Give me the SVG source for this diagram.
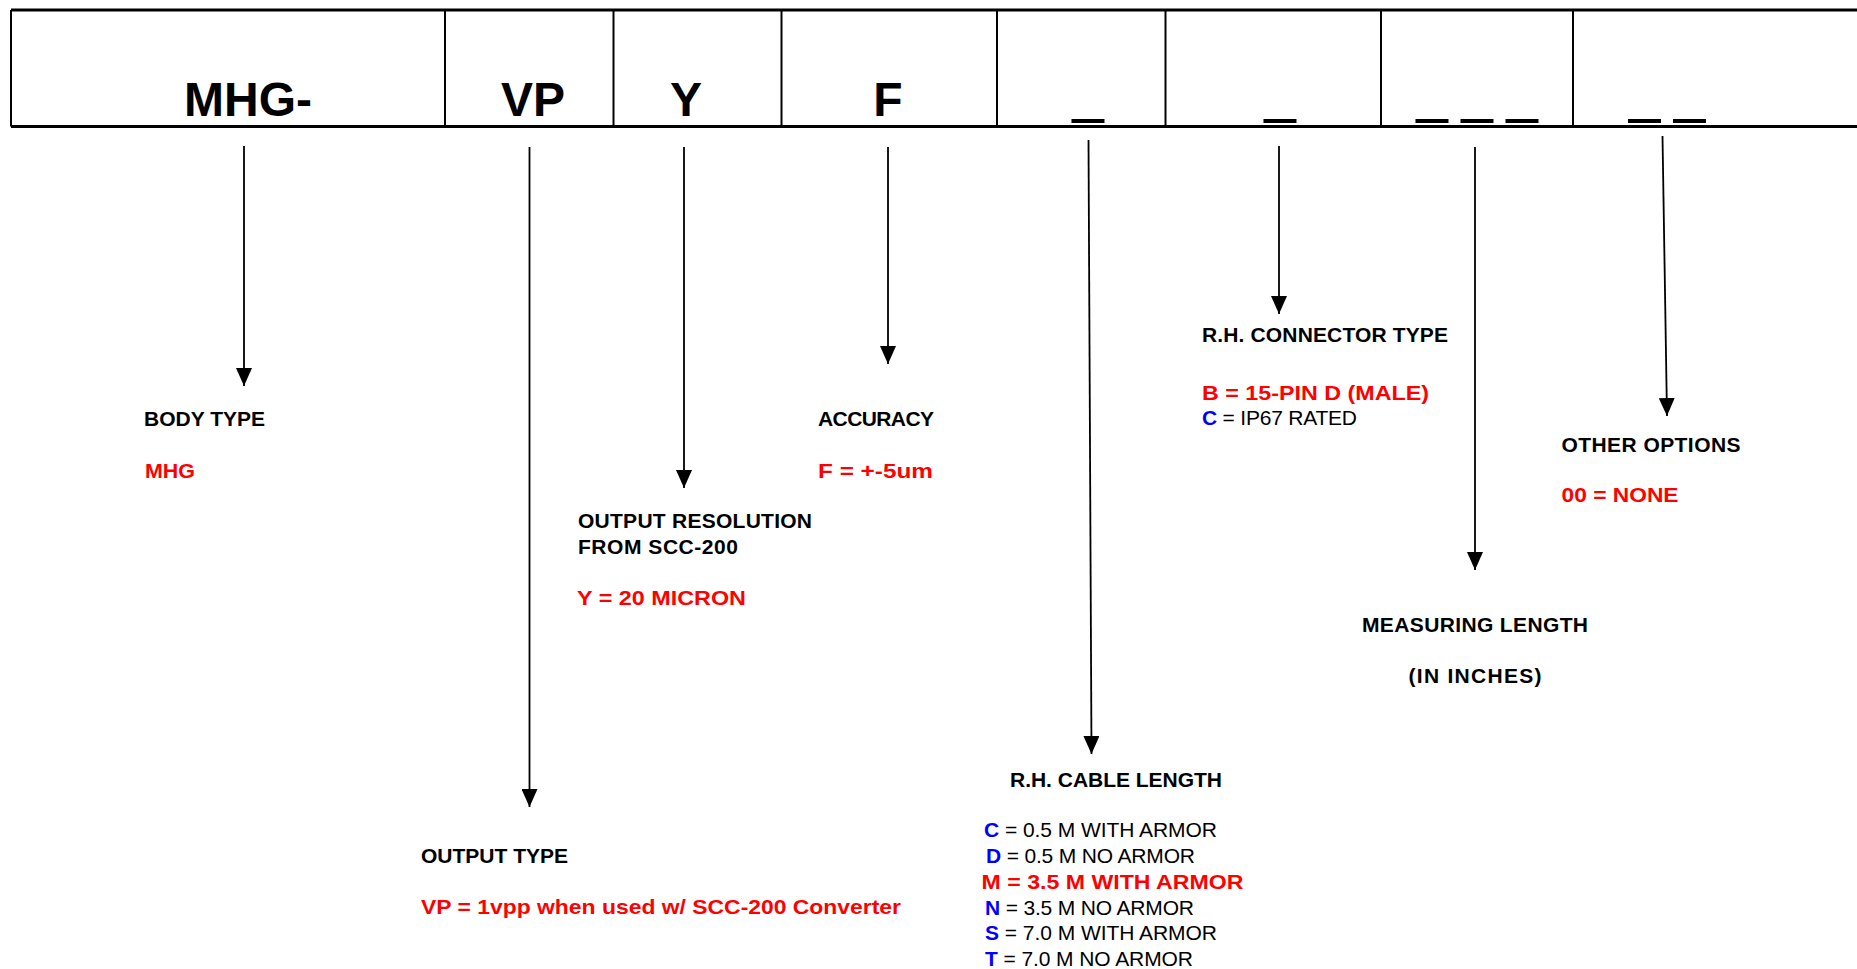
<svg xmlns="http://www.w3.org/2000/svg" width="1857" height="969" viewBox="0 0 1857 969">
<style>
text{font-family:"Liberation Sans",Arial,sans-serif;}
.hd{font-size:48px;font-weight:bold;fill:#000;text-anchor:middle;}
.us{font-size:54px;font-weight:bold;fill:#000;stroke:#000;stroke-width:2;text-anchor:middle;}
.lb{font-size:21px;font-weight:bold;fill:#000;}
.rd{font-size:21px;font-weight:bold;fill:#FF0000;}
.rg{font-size:21px;font-weight:normal;fill:#000;}
.bl{font-weight:bold;fill:#0000FF;}
.ctr{text-anchor:middle;}
.conn line{stroke:#000;stroke-width:1.8;fill:none;}
.box line{stroke:#000;}
</style>
<defs>
<marker id="ah" markerUnits="userSpaceOnUse" markerWidth="18" markerHeight="16" viewBox="0 0 18 16" refX="18" refY="8" orient="auto">
<path d="M0,0 L18,8 L0,16 Z" fill="#000"/>
</marker>
</defs>
<rect width="1857" height="969" fill="#fff"/>
<g id="code-box" class="box">
<line x1="11" y1="10" x2="1857" y2="10" stroke-width="3"/>
<line x1="11" y1="126.5" x2="1857" y2="126.5" stroke-width="3"/>
<line x1="11" y1="10" x2="11" y2="126.5" stroke-width="2"/>
<line x1="445" y1="10" x2="445" y2="126.5" stroke-width="2"/>
<line x1="613.5" y1="10" x2="613.5" y2="126.5" stroke-width="2"/>
<line x1="781.5" y1="10" x2="781.5" y2="126.5" stroke-width="2"/>
<line x1="997" y1="10" x2="997" y2="126.5" stroke-width="2"/>
<line x1="1165.5" y1="10" x2="1165.5" y2="126.5" stroke-width="2"/>
<line x1="1381" y1="10" x2="1381" y2="126.5" stroke-width="2"/>
<line x1="1573" y1="10" x2="1573" y2="126.5" stroke-width="2"/>
<text class="hd" x="248" y="116">MHG-</text>
<text class="hd" x="533" y="116">VP</text>
<text class="hd" x="686" y="116">Y</text>
<text class="hd" x="888" y="116">F</text>
<text class="us" x="1088" y="115">_</text>
<text class="us" x="1280" y="115">_</text>
<text class="us" x="1477" y="115">_ _ _</text>
<text class="us" x="1667" y="115">_ _</text>
</g>
<g id="connectors" class="conn">
<line x1="244" y1="146" x2="244" y2="386" marker-end="url(#ah)"/>
<line x1="529.5" y1="147" x2="529.5" y2="807" marker-end="url(#ah)"/>
<line x1="684" y1="147" x2="684" y2="488" marker-end="url(#ah)"/>
<line x1="888" y1="147" x2="888" y2="364" marker-end="url(#ah)"/>
<line x1="1088.5" y1="140" x2="1091.5" y2="754" marker-end="url(#ah)"/>
<line x1="1279" y1="146" x2="1279" y2="314" marker-end="url(#ah)"/>
<line x1="1475" y1="147" x2="1475" y2="570" marker-end="url(#ah)"/>
<line x1="1662.5" y1="136" x2="1667" y2="416" marker-end="url(#ah)"/>
</g>
<g id="body-type">
<text class="lb" x="144" y="426" textLength="121">BODY TYPE</text>
<text class="rd" x="145" y="477.5" textLength="50" lengthAdjust="spacingAndGlyphs">MHG</text>
</g>
<g id="output-type">
<text class="lb" x="421" y="863" textLength="147">OUTPUT TYPE</text>
<text class="rd" x="421" y="914" textLength="480" lengthAdjust="spacingAndGlyphs">VP = 1vpp when used w/ SCC-200 Converter</text>
</g>
<g id="output-resolution">
<text class="lb" x="578" y="528" textLength="234">OUTPUT RESOLUTION</text>
<text class="lb" x="578" y="554" textLength="160">FROM SCC-200</text>
<text class="rd" x="577" y="605" textLength="169" lengthAdjust="spacingAndGlyphs">Y = 20 MICRON</text>
</g>
<g id="accuracy">
<text class="lb" x="818" y="426" textLength="116">ACCURACY</text>
<text class="rd" x="818" y="477.5" textLength="115" lengthAdjust="spacingAndGlyphs">F = +-5um</text>
</g>
<g id="cable-length">
<text class="lb" x="1010" y="786.5" textLength="212">R.H. CABLE LENGTH</text>
<text class="rg" x="984" y="837" textLength="233"><tspan class="bl">C</tspan> = 0.5 M WITH ARMOR</text>
<text class="rg" x="986" y="863" textLength="209"><tspan class="bl">D</tspan> = 0.5 M NO ARMOR</text>
<text class="rd" x="981.5" y="889" textLength="262" lengthAdjust="spacingAndGlyphs">M = 3.5 M WITH ARMOR</text>
<text class="rg" x="985" y="914.5" textLength="209"><tspan class="bl">N</tspan> = 3.5 M NO ARMOR</text>
<text class="rg" x="985" y="940" textLength="232"><tspan class="bl">S</tspan> = 7.0 M WITH ARMOR</text>
<text class="rg" x="985" y="965.5" textLength="208"><tspan class="bl">T</tspan> = 7.0 M NO ARMOR</text>
</g>
<g id="connector-type">
<text class="lb" x="1202" y="341.5" textLength="246">R.H. CONNECTOR TYPE</text>
<text class="rd" x="1202" y="400" textLength="227" lengthAdjust="spacingAndGlyphs">B = 15-PIN D (MALE)</text>
<text class="rg" x="1202" y="425" textLength="155"><tspan class="bl">C</tspan> = IP67 RATED</text>
</g>
<g id="measuring-length">
<text class="lb ctr" x="1475" y="631.5" textLength="226">MEASURING LENGTH</text>
<text class="lb ctr" x="1475" y="683" textLength="133">(IN INCHES)</text>
</g>
<g id="other-options">
<text class="lb" x="1561.5" y="451.5" textLength="179">OTHER OPTIONS</text>
<text class="rd" x="1561.5" y="502" textLength="117" lengthAdjust="spacingAndGlyphs">00 = NONE</text>
</g>
</svg>
